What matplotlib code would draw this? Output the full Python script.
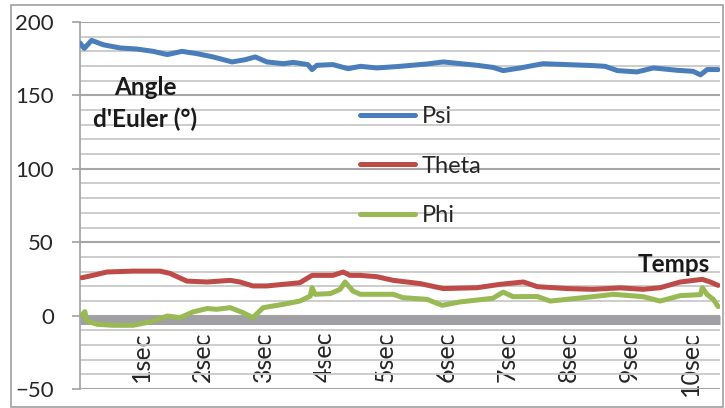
import matplotlib

matplotlib.use("Agg")
import matplotlib.pyplot as plt
from matplotlib.patches import Rectangle
from matplotlib.ticker import MultipleLocator

plt.rcParams["font.family"] = ["Lato", "DejaVu Sans"]

# Euler angles (time in s, angle in deg)
psi_t = [0.00, 0.07, 0.19, 0.38, 0.66, 0.93, 1.20, 1.43, 1.67, 1.92, 2.18, 2.49,
         2.70, 2.87, 3.06, 3.33, 3.49, 3.73, 3.80, 3.88, 4.14, 4.39, 4.59, 4.86,
         5.24, 5.68, 5.95, 6.50, 6.76, 6.93, 7.21, 7.58, 8.40, 8.60, 8.80, 9.12,
         9.39, 9.78, 10.04, 10.16, 10.27, 10.45]
psi = [185.7, 182.0, 187.5, 184.5, 182.3, 181.6, 180.0, 177.8, 180.0, 178.4, 176.2,
       172.8, 174.3, 176.2, 172.8, 171.6, 172.5, 171.0, 167.6, 170.5, 171.0, 168.2,
       169.8, 168.7, 169.8, 171.4, 172.8, 170.5, 169.1, 166.9, 168.7, 171.6, 170.3,
       169.8, 166.9, 166.0, 168.7, 167.1, 166.4, 164.0, 167.6, 167.6]

theta_t = [0.03, 0.21, 0.44, 0.87, 1.31, 1.47, 1.75, 2.08, 2.46, 2.62, 2.83, 3.06,
           3.33, 3.60, 3.80, 3.93, 4.14, 4.31, 4.42, 4.59, 4.86, 5.13, 5.57, 5.95,
           6.50, 6.88, 7.26, 7.49, 7.98, 8.40, 8.85, 9.22, 9.50, 9.83, 10.19, 10.32,
           10.45]
theta = [25.8, 27.4, 29.7, 30.3, 30.3, 28.8, 23.5, 22.9, 24.0, 22.9, 20.2, 20.2,
         21.3, 22.4, 27.4, 27.4, 27.4, 29.7, 27.4, 27.4, 26.5, 24.0, 21.8, 18.4,
         19.0, 21.3, 22.9, 19.7, 18.4, 17.9, 18.9, 17.9, 19.0, 22.9, 24.7, 22.9,
         20.6]

phi_t = [0.03, 0.08, 0.11, 0.28, 0.54, 0.87, 1.15, 1.43, 1.64, 1.85, 2.08, 2.24,
         2.46, 2.67, 2.83, 3.00, 3.33, 3.60, 3.77, 3.80, 3.85, 4.10, 4.26, 4.34,
         4.47, 4.59, 5.13, 5.29, 5.68, 5.93, 6.22, 6.76, 6.93, 7.09, 7.49, 7.70,
         8.40, 8.73, 9.22, 9.50, 9.83, 10.16, 10.19, 10.27, 10.37, 10.45]
phi = [0.2, 2.7, -3.7, -5.9, -6.6, -6.6, -4.3, -0.3, -1.4, 2.5, 4.8, 4.3,
       5.4, 2.0, -1.4, 5.4, 7.7, 9.9, 13.3, 19.0, 14.5, 15.0, 17.9, 22.9,
       16.7, 14.5, 14.5, 12.2, 11.1, 7.0, 9.3, 11.8, 16.0, 12.9, 13.0, 9.9,
       12.9, 14.5, 12.9, 9.9, 13.6, 14.3, 19.0, 14.3, 11.1, 6.1]

sec_ticks = [1, 2, 3, 4, 5, 6, 7, 8, 9, 10]
sec_labels = [f"{s}sec" for s in sec_ticks]

SERIES = [
    (psi_t, psi, "Psi", "#4a7ebb"),
    (theta_t, theta, "Theta", "#be4b48"),
    (phi_t, phi, "Phi", "#98b954"),
]
TEXT = "#262626"

fig = plt.figure(figsize=(7.25, 4.08), dpi=100)
ax = fig.add_axes([80 / 725, 19 / 408, 640 / 725, 367 / 408])

for t, v, label, color in SERIES:
    ax.plot(t, v, color=color, lw=3.6, label=label, solid_capstyle="round", zorder=3)

ax.set_xlim(0, 10.48)
ax.set_ylim(-50, 200)

ax.yaxis.set_major_locator(MultipleLocator(50))
ax.yaxis.set_minor_locator(MultipleLocator(10))
ax.grid(axis="y", which="minor", color="#c8c8c8", lw=1.3)
ax.grid(axis="y", which="major", color="#a6a6a6", lw=1.5)
ax.set_axisbelow(True)
ax.tick_params(axis="y", which="major", length=5.8, width=1.2, color="#a0a0a0",
               labelsize=16, pad=13, labelcolor=TEXT)
ax.tick_params(axis="y", which="minor", length=0)

# category axis drawn as a thick band at zero, labels just underneath
bottom = ax.spines["bottom"]
bottom.set_position(("data", -3))
bottom.set_color("#a0a0a4")
bottom.set_linewidth(6.5)
bottom.set_capstyle("butt")
bottom.set_zorder(2)
ax.set_xticks(sec_ticks)
ax.set_xticklabels(sec_labels, rotation=90, va="top", ha="center")
ax.tick_params(axis="x", length=0, labelsize=18, pad=8, labelcolor=TEXT)

ax.spines["left"].set_color("#a0a0a0")
ax.spines["left"].set_linewidth(1.2)
ax.spines["top"].set_visible(False)
ax.spines["right"].set_visible(False)

ax.text(0.1016, 0.778, "Angle\nd'Euler (°)", transform=ax.transAxes, ha="center",
        va="center", fontsize=17.5, fontweight="bold", linespacing=1.4, color="#1a1a1a")
ax.text(0.927, 0.338, "Temps", transform=ax.transAxes, ha="center", va="center",
        fontsize=17.5, fontweight="bold", color="#1a1a1a")

ax.legend(loc="upper left", bbox_to_anchor=(0.4375, 0.77), frameon=False,
          fontsize=17, borderpad=0, borderaxespad=0, handlelength=2.35,
          handletextpad=0.25, labelspacing=1.2, labelcolor=TEXT)

fig.add_artist(Rectangle((11 / 725, 1 / 408), 712 / 725, 402 / 408,
                         transform=fig.transFigure, fill=False, ec="#a0a0a0", lw=1.2))

fig.savefig("out.png", dpi=100)
